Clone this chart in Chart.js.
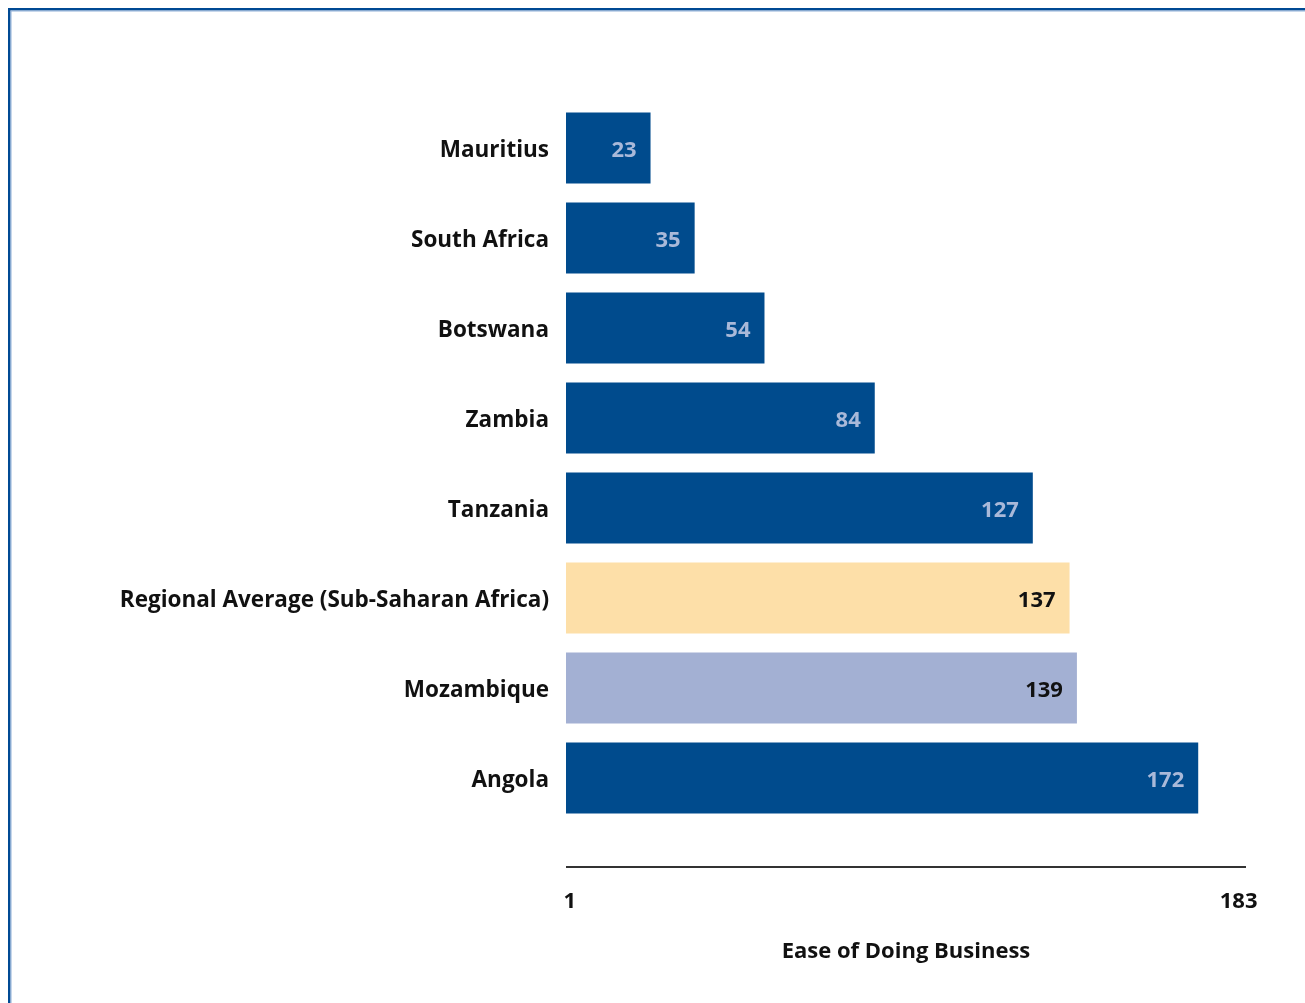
<!DOCTYPE html>
<html>
<head>
<meta charset="utf-8">
<script src="https://cdn.jsdelivr.net/npm/chart.js@4"></script>
<style>
  html, body { margin: 0; padding: 0; background: #ffffff; }
  #wrap { position: relative; width: 1305px; height: 1003px; }
  canvas { display: block; }
</style>
</head>
<body>
<div id="wrap"><canvas id="c" width="1305" height="1003"></canvas></div>
<script>
const categories = ["Mauritius", "South Africa", "Botswana", "Zambia", "Tanzania",
  "Regional Average (Sub-Saharan Africa)", "Mozambique", "Angola"];
const rankValues = [23, 35, 54, 84, 127, 137, 139, 172];
const barColors = ["#004b8d", "#004b8d", "#004b8d", "#004b8d", "#004b8d", "#fddfa8", "#a3b0d3", "#004b8d"];
const valueLabelColors = ["#a9b9d9", "#a9b9d9", "#a9b9d9", "#a9b9d9", "#a9b9d9", "#111111", "#111111", "#a9b9d9"];
const xTickValues = [1, 183];
const xAxisTitle = "Ease of Doing Business";

const FONT = "'Open Sans', 'Noto Sans', sans-serif";

const framePlugin = {
  id: 'frame',
  beforeDraw(chart) {
    const ctx = chart.ctx;
    ctx.save();
    ctx.fillStyle = '#004a94';
    ctx.fillRect(8, 8, 1305, 2.5);
    ctx.fillRect(8, 8, 2.5, 1003);
    ctx.fillStyle = '#8fb0d8';
    ctx.fillRect(10.5, 10.5, 1305, 1);
    ctx.fillRect(10.5, 10.5, 1, 1003);
    ctx.restore();
  }
};

const axisLinePlugin = {
  id: 'axisLine',
  afterDraw(chart) {
    const x = chart.scales.x;
    const ctx = chart.ctx;
    ctx.save();
    ctx.strokeStyle = '#333333';
    ctx.lineWidth = 2;
    ctx.beginPath();
    ctx.moveTo(x.getPixelForValue(0), 867);
    ctx.lineTo(x.right, 867);
    ctx.stroke();
    ctx.restore();
  }
};

const valueLabelPlugin = {
  id: 'valueLabels',
  afterDatasetsDraw(chart) {
    const ctx = chart.ctx;
    const meta = chart.getDatasetMeta(0);
    ctx.save();
    ctx.font = "bold 22px " + FONT;
    ctx.textAlign = 'right';
    ctx.textBaseline = 'middle';
    meta.data.forEach((bar, i) => {
      ctx.fillStyle = valueLabelColors[i];
      ctx.fillText(String(rankValues[i]), bar.x - 14, bar.y + 3);
    });
    ctx.restore();
  }
};

new Chart(document.getElementById('c'), {
  type: 'bar',
  data: {
    labels: categories,
    datasets: [{
      data: rankValues,
      backgroundColor: barColors,
      borderWidth: 0,
      barPercentage: 0.79,
      categoryPercentage: 1.0
    }]
  },
  options: {
    indexAxis: 'y',
    responsive: false,
    animation: false,
    devicePixelRatio: 1,
    layout: { padding: { left: 0, top: 103, right: 59, bottom: 0 } },
    plugins: { legend: { display: false }, tooltip: { enabled: false } },
    scales: {
      x: {
        min: 0,
        max: 185,
        grid: { display: false, drawTicks: false },
        border: { display: false },
        afterBuildTicks(scale) { scale.ticks = xTickValues.map(v => ({ value: v })); },
        ticks: {
          autoSkip: false,
          maxRotation: 0,
          padding: 66,
          color: '#111111',
          font: { family: FONT, size: 22, weight: 'bold' }
        },
        title: {
          display: true,
          text: xAxisTitle,
          color: '#111111',
          font: { family: FONT, size: 22, weight: 'bold' },
          padding: { top: 20, bottom: 38 }
        },
        afterFit(scale) {
          scale.height = 1003 - 823;
          scale.paddingLeft = 0;
          scale.paddingRight = 0;
        }
      },
      y: {
        grid: { display: false, drawTicks: false },
        border: { display: false },
        ticks: {
          padding: 17,
          labelOffset: 3,
          color: '#111111',
          font: { family: FONT, size: 22.5, weight: 'bold' }
        },
        afterFit(scale) { scale.width = 566; scale.paddingTop = 0; scale.paddingBottom = 0; }
      }
    }
  },
  plugins: [framePlugin, axisLinePlugin, valueLabelPlugin]
});
</script>
</body>
</html>
